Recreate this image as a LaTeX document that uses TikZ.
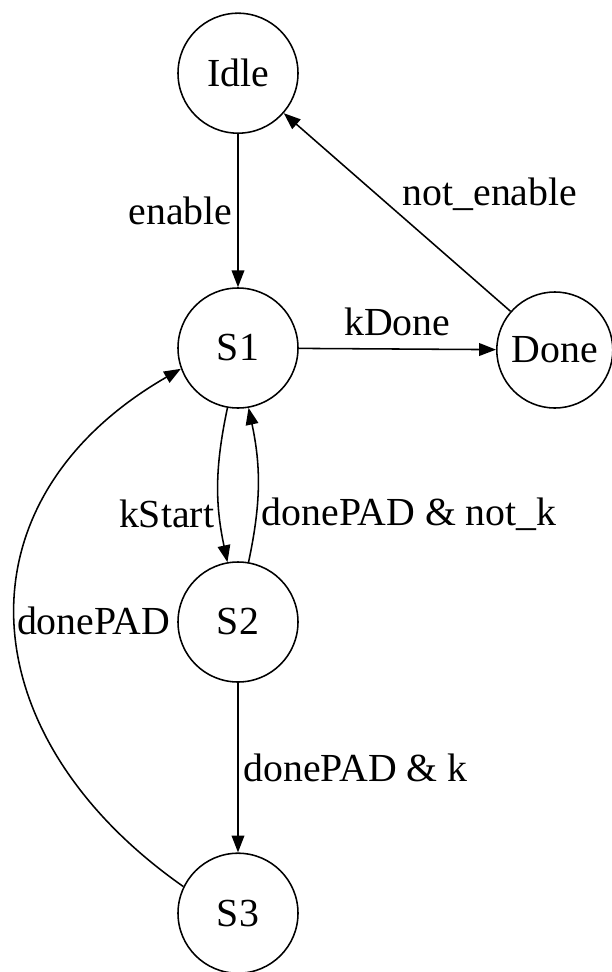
\documentclass[tikz,border=0pt]{standalone}
\usepackage{fontspec}
\setmainfont{Liberation Serif}
\usetikzlibrary{arrows.meta}
\tikzset {>={Triangle[length=12pt,width=9pt]}}
\tikzset {state/.style={circle,draw,line width=1.1pt,minimum size=3cm,inner sep=0pt}}

\begin{document}
\begin{tikzpicture}[line width=1.1pt,font=\rmfamily\fontsize{28.3}{34}\selectfont]
\useasboundingbox (0,0) rectangle (15.3,-24.3);
\node[state] (idle) at (5.95,-1.83) {Idle};
\node[state] (s1) at (5.95,-8.7) {S1};
\node[state,minimum size=2.9cm] (done) at (13.87,-8.75) {Done};
\node[state] (s2) at (5.95,-15.55) {S2};
\node[state] (s3) at (5.95,-22.83) {S3};
\draw[->] (idle) -- node[left] {enable} (s1);
\draw[->] (s1) -- node[above,yshift=2mm] {kDone} (done);
\draw[->] (done) -- node[above right,yshift=-1mm] {not\_enable} (idle);
\draw[->] (s1.260) to[bend right=12] node[left,pos=0.7] {kStart} (s2.100);
\draw[->] (s2.80) to[bend right=12] node[right,pos=0.3] {donePAD \& not\_k} (s1.280);
\draw[->] (s2) -- node[right] {donePAD \& k} (s3);
\draw[->] (s3.154) to[out=145,in=210,looseness=1.3] node[right,pos=0.5,xshift=-1mm] {donePAD} (s1.200);
\end{tikzpicture}
\end{document}
